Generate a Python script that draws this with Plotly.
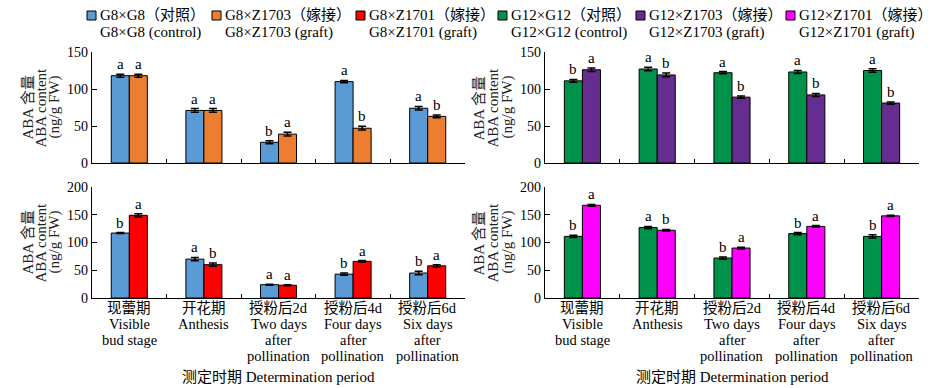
import plotly.graph_objects as go

# ---------------- data ----------------
categories = ["现蕾期", "开花期", "授粉后2d", "授粉后4d", "授粉后6d"]
tick_lines = [
    ["现蕾期", "Visible", "bud stage"],
    ["开花期", "Anthesis"],
    ["授粉后2d", "Two days", "after", "pollination"],
    ["授粉后4d", "Four days", "after", "pollination"],
    ["授粉后6d", "Six days", "after", "pollination"],
]

# top-left
g8_ctrl_a = [118, 71, 28, 110, 74]
g8_ctrl_a_err = [2, 2.5, 2, 1.5, 2.5]
g8_z1703 = [118, 71, 39, 47, 63]
g8_z1703_err = [2, 2.5, 2.5, 2.5, 2]
letters_tl = [["a", "a"], ["a", "a"], ["b", "a"], ["a", "b"], ["a", "b"]]
# bottom-left
g8_ctrl_b = [117, 70, 24, 43, 45]
g8_ctrl_b_err = [1, 3, 1, 2, 3]
g8_z1701 = [149, 60, 23, 66, 58]
g8_z1701_err = [3, 3, 1, 1.5, 2]
letters_bl = [["b", "a"], ["a", "b"], ["a", "a"], ["b", "a"], ["b", "a"]]
# top-right
g12_ctrl_a = [111, 127, 122, 123, 125]
g12_ctrl_a_err = [2, 2.5, 1.5, 2, 2.5]
g12_z1703 = [126, 119, 89, 92, 81]
g12_z1703_err = [2.5, 2.5, 1.5, 2, 1.5]
letters_tr = [["b", "a"], ["a", "b"], ["a", "b"], ["a", "b"], ["a", "b"]]
# bottom-right
g12_ctrl_b = [111, 127, 72, 116, 111]
g12_ctrl_b_err = [2, 2, 2, 2, 3]
g12_z1701 = [167, 122, 90, 129, 148]
g12_z1701_err = [1.5, 1.5, 1.5, 1.5, 1]
letters_br = [["b", "a"], ["a", "b"], ["b", "a"], ["b", "a"], ["b", "a"]]

legend_items = [
    ("G8×G8（对照）", "G8×G8 (control)", "#5B9BD5"),
    ("G8×Z1703（嫁接）", "G8×Z1703 (graft)", "#ED7D31"),
    ("G8×Z1701（嫁接）", "G8×Z1701 (graft)", "#FF0000"),
    ("G12×G12（对照）", "G12×G12 (control)", "#00924A"),
    ("G12×Z1703（嫁接）", "G12×Z1703 (graft)", "#662D91"),
    ("G12×Z1701（嫁接）", "G12×Z1701 (graft)", "#FF00FF"),
]
colors = {name: c for name, _, c in legend_items}

y_title = ["ABA 含量", "ABA content", "(ng/g FW)"]
x_title = "测定时期 Determination period"

# ---------------- layout helpers ----------------
W, H = 938, 388
FONT = "Liberation Serif, Noto Sans CJK SC, serif"
BARGAP = 0.517
OFF = (1 - BARGAP) / 4  # centre offset of each bar in a pair


def px_x(p):
    return p / W


def px_y(p):
    return 1 - p / H


panels = [
    ("x", "y", (92, 465), (52, 163), 150,
     [(legend_items[0][0], g8_ctrl_a, g8_ctrl_a_err), (legend_items[1][0], g8_z1703, g8_z1703_err)],
     letters_tl, False, [27, 40, 54]),
    ("x2", "y2", (545, 919), (52, 163), 150,
     [(legend_items[3][0], g12_ctrl_a, g12_ctrl_a_err), (legend_items[4][0], g12_z1703, g12_z1703_err)],
     letters_tr, False, [478, 492, 507]),
    ("x3", "y3", (92, 465), (187, 298), 200,
     [(legend_items[0][0], g8_ctrl_b, g8_ctrl_b_err), (legend_items[2][0], g8_z1701, g8_z1701_err)],
     letters_bl, True, [27, 40, 54]),
    ("x4", "y4", (545, 919), (187, 298), 200,
     [(legend_items[3][0], g12_ctrl_b, g12_ctrl_b_err), (legend_items[5][0], g12_z1701, g12_z1701_err)],
     letters_br, True, [478, 492, 507]),
]

fig = go.Figure()
annotations = []
shapes = []
layout = {}

for xa, ya, xd, yd, ymax, series, letters, show_labels, ytx in panels:
    for name, vals, errs in series:
        fig.add_trace(go.Bar(
            x=categories, y=vals, name=name, xaxis=xa, yaxis=ya,
            marker=dict(color=colors[name], line=dict(color="black", width=1)),
            error_y=dict(type="data", array=errs, visible=True, color="black",
                         thickness=1.5, width=4),
            showlegend=False,
        ))
    xkey = "xaxis" + xa[1:]
    ykey = "yaxis" + ya[1:]
    layout[xkey] = dict(
        domain=[px_x(xd[0]), px_x(xd[1])], anchor=ya, type="category",
        categoryorder="array", categoryarray=categories,
        range=[-0.5, len(categories) - 0.5], automargin=False,
        showline=True, linecolor="black", linewidth=1.2,
        ticks="inside", tickson="boundaries", ticklen=4, tickcolor="black",
        showticklabels=False, showgrid=False, zeroline=False, fixedrange=True,
    )
    layout[ykey] = dict(
        domain=[px_y(yd[1]), px_y(yd[0])], anchor=xa, range=[0, ymax],
        tickvals=list(range(0, ymax + 1, 50)), automargin=False,
        showline=True, linecolor="black", linewidth=1.2,
        ticks="inside", ticklen=5, tickcolor="black",
        tickfont=dict(family=FONT, size=14, color="black"),
        showgrid=False, zeroline=False, fixedrange=True,
    )
    for i, pair in enumerate(letters):
        for j, (name, vals, errs) in enumerate(series):
            annotations.append(dict(
                x=i + (-OFF if j == 0 else OFF), y=vals[i] + errs[i],
                xref=xa, yref=ya, text=pair[j], showarrow=False,
                xanchor="center", yanchor="bottom", yshift=0,
                font=dict(family=FONT, size=15, color="black"),
            ))
    ymid = (yd[0] + yd[1]) / 2
    for k, line in enumerate(y_title):
        annotations.append(dict(
            x=px_x(ytx[k]), y=px_y(ymid), xref="paper", yref="paper",
            text=line, textangle=-90, showarrow=False,
            xanchor="center", yanchor="middle", borderpad=0,
            font=dict(family=FONT, size=15, color="#222222"),
        ))
    if show_labels:
        line_centers = [308, 324, 340, 356]
        for i, lines in enumerate(tick_lines):
            for k, line in enumerate(lines):
                annotations.append(dict(
                    x=i, y=px_y(line_centers[k]), xref=xa, yref="paper",
                    text=line, showarrow=False, xanchor="center", yanchor="middle",
                    borderpad=0,
                    font=dict(family=FONT, size=14.5, color="black"),
                ))
        annotations.append(dict(
            x=px_x((xd[0] + xd[1]) / 2), y=px_y(377), xref="paper", yref="paper",
            text=x_title, showarrow=False, xanchor="center", yanchor="middle",
            borderpad=0,
            font=dict(family=FONT, size=15, color="black"),
        ))

legend_sq_x = [87, 212, 356, 498, 636, 786]
for (l1, l2, c), sx in zip(legend_items, legend_sq_x):
    shapes.append(dict(type="rect", xref="paper", yref="paper",
                       x0=px_x(sx), x1=px_x(sx + 9), y0=px_y(20), y1=px_y(11),
                       fillcolor=c, line=dict(color="black", width=1)))
    for txt, cy in ((l1, 15.5), (l2, 32.5)):
        annotations.append(dict(
            x=px_x(sx + 12), y=px_y(cy), xref="paper", yref="paper",
            text=txt, showarrow=False, xanchor="left", yanchor="middle",
            borderpad=0,
            font=dict(family=FONT, size=15, color="black"),
        ))

fig.update_layout(
    width=W, height=H, margin=dict(l=0, r=0, t=0, b=0, autoexpand=False),
    paper_bgcolor="white", plot_bgcolor="white",
    barmode="group", bargap=BARGAP, bargroupgap=0,
    annotations=annotations, shapes=shapes, showlegend=False,
    **layout,
)

# remove the browser's default 8px page margin so the figure sits at (0, 0)
fig.write_html(
    "out.html",
    config={"displayModeBar": False},
    post_script="document.body.style.margin='0';document.body.style.overflow='hidden';",
)
